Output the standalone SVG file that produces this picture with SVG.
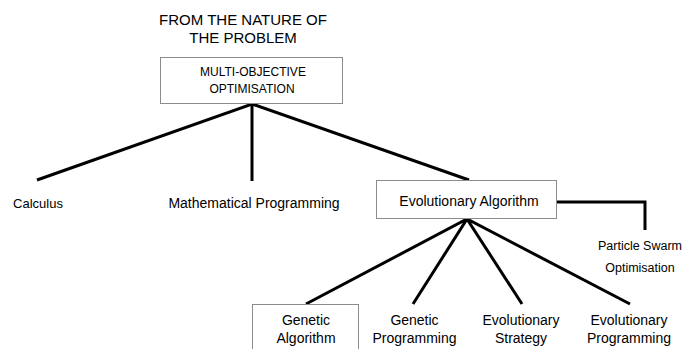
<svg xmlns="http://www.w3.org/2000/svg" width="691" height="349" viewBox="0 0 691 349">
<style>
.bg{fill:#fff}
.box{fill:#fff;stroke:#8c8c8c;stroke-width:1}
.ln{fill:none;stroke:#000;stroke-width:3;stroke-linejoin:miter}
.t{font-family:"Liberation Sans",Arial,sans-serif;font-size:14px;fill:#000;text-anchor:middle}
.s{font-size:12px}
.m{font-size:12.5px}
.c{font-size:13px}
.title{font-family:"Liberation Sans",Arial,sans-serif;font-size:15px;fill:#000;text-anchor:middle}
</style>
<rect class="bg" x="0" y="0" width="691" height="349"/>
<g id="connectors">
<polyline class="ln" points="37,180 252,104 469,180"/>
<line class="ln" x1="252" y1="104" x2="252" y2="181"/>
<polyline class="ln" points="557,202 645,202 645,230"/>
<polyline class="ln" points="306,304 467,219 413,304"/>
<polyline class="ln" points="522,304 467,219 630,304"/>
</g>
<g id="title">
<text class="title" x="243" y="25">FROM THE NATURE OF</text>
<text class="title" x="243" y="43">THE PROBLEM</text>
</g>
<g id="moo">
<rect class="box" x="160.5" y="57.5" width="182" height="46"/>
<text class="t s" x="253" y="76">MULTI-OBJECTIVE</text>
<text class="t s" x="252" y="93">OPTIMISATION</text>
</g>
<g id="calculus">
<text class="t c" x="38" y="208">Calculus</text>
</g>
<g id="mathprog">
<text class="t" x="254" y="208">Mathematical Programming</text>
</g>
<g id="ea">
<rect class="box" x="376.5" y="180.5" width="180" height="38"/>
<text class="t" x="469" y="206">Evolutionary Algorithm</text>
</g>
<g id="pso">
<text class="t m" x="640" y="250">Particle Swarm</text>
<text class="t m" x="640" y="272">Optimisation</text>
</g>
<g id="ga">
<rect class="box" x="252.5" y="304.5" width="106" height="50"/>
<text class="t" x="306" y="325">Genetic</text>
<text class="t" x="306" y="343">Algorithm</text>
</g>
<g id="gp">
<text class="t" x="414.5" y="325">Genetic</text>
<text class="t" x="414.5" y="343">Programming</text>
</g>
<g id="es">
<text class="t" x="521" y="325">Evolutionary</text>
<text class="t" x="521" y="343">Strategy</text>
</g>
<g id="ep">
<text class="t" x="629" y="325">Evolutionary</text>
<text class="t" x="629" y="343">Programming</text>
</g>
</svg>
